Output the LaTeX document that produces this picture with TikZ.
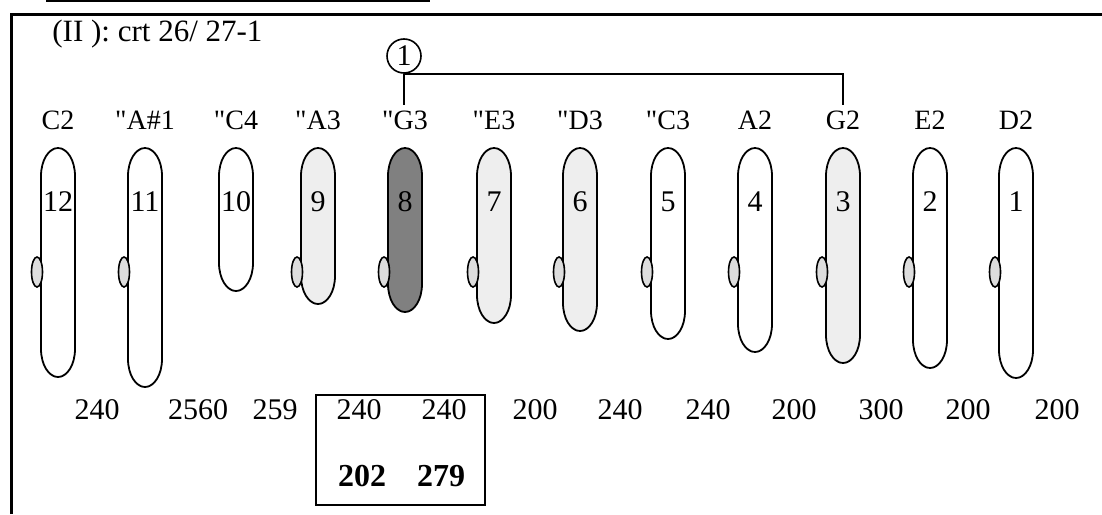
\documentclass[tikz,border=0pt]{standalone}
\usepackage{fontspec}
\setmainfont{Liberation Serif}
\usetikzlibrary{shapes.geometric}

\definecolor{chrlight}{HTML}{EEEEEE}
\definecolor{chrdark}{HTML}{808080}
\definecolor{cengray}{HTML}{DDDDDD}

\tikzset{
  chrom/.style={draw, line width=0.9pt},
  cen/.style={draw, ellipse, fill=cengray, line width=0.8pt, minimum width=5.5pt, minimum height=15pt, inner sep=0pt},
  chnum/.style={font=\fontsize{15}{17}\selectfont, inner sep=0pt},
  chname/.style={font=\fontsize{14}{16}\selectfont, text height=9.3pt, text depth=0pt, inner sep=2.5pt},
  count/.style={font=\fontsize{15}{17}\selectfont, inner sep=1pt},
  wire/.style={line width=0.9pt},
}

\begin{document}
\begin{tikzpicture}[x=0.5pt, y=-0.5pt]
        \useasboundingbox (0,0) rectangle (1102,514);
        \draw[line width=1pt] (46,1)--(430,1);
        \draw[line width=1.5pt] (11,514)--(11,14)--(1102,14);
        \node[anchor=west, inner sep=0pt, font=\fontsize{15.5}{18}\selectfont] (title) at (52,34) {(II ): crt 26/ 27-1};
        % chromosomes: number / centre x / bottom / fill / name
        \foreach \n/\x/\b/\f/\t in {12/58/377/white/C2, 11/145/387/white/\textquotedbl A\#1, 10/236/291/white/\textquotedbl C4, 9/318/304/chrlight/\textquotedbl A3, 8/405/312/chrdark/\textquotedbl G3, 7/494/323/chrlight/\textquotedbl E3, 6/580/331/chrlight/\textquotedbl D3, 5/668/339/white/\textquotedbl C3, 4/755/352/white/A2, 3/843/363/chrlight/G2, 2/930/368/white/E2, 1/1016/378/white/D2}{
            \draw[chrom, fill=\f] (\x-17,176)--(\x-17,\b-28) arc[start angle=180, end angle=360, x radius=8.5pt, y radius=14pt]--(\x+17,176) arc[start angle=0, end angle=180, x radius=8.5pt, y radius=14pt]--cycle;
            \ifnum\n=10 \else \node[cen] (e\n) at (\x-21,272) {}; \fi
            \node[chnum] (n\n) at (\x,202) {\n};
            \node[chname] (l\n) at (\x,120) {\t};
        }
        \node[draw, circle, minimum size=17pt, inner sep=0pt, line width=0.8pt, font=\fontsize{15}{17}\selectfont] (one) at (404,56) {1};
        \draw[wire] (one.south)--(one.south |- l8.north);
        \draw[wire] (one.south)-|(l3.north);
        % counts under the chromosomes
        \foreach \n/\x/\v in {12/97/240, 11/198/2560, 10/275/259, 9/359/240, 8/444/240, 7/535/200, 6/620/240, 5/708/240, 4/794/200, 3/881/300, 2/968/200, 1/1057/200}
            \node[count] (c\n) at (\x,410) {\v};
        \node[draw, line width=1pt, minimum width=84.5pt, minimum height=55pt, inner sep=0pt] (box) at (400.5,450) {};
        \node[count, font=\fontsize{16}{18}\selectfont\bfseries] (d9) at (362,476) {202};
        \node[count, font=\fontsize{16}{18}\selectfont\bfseries] (d8) at (441,476) {279};
    \end{tikzpicture}
\end{document}
